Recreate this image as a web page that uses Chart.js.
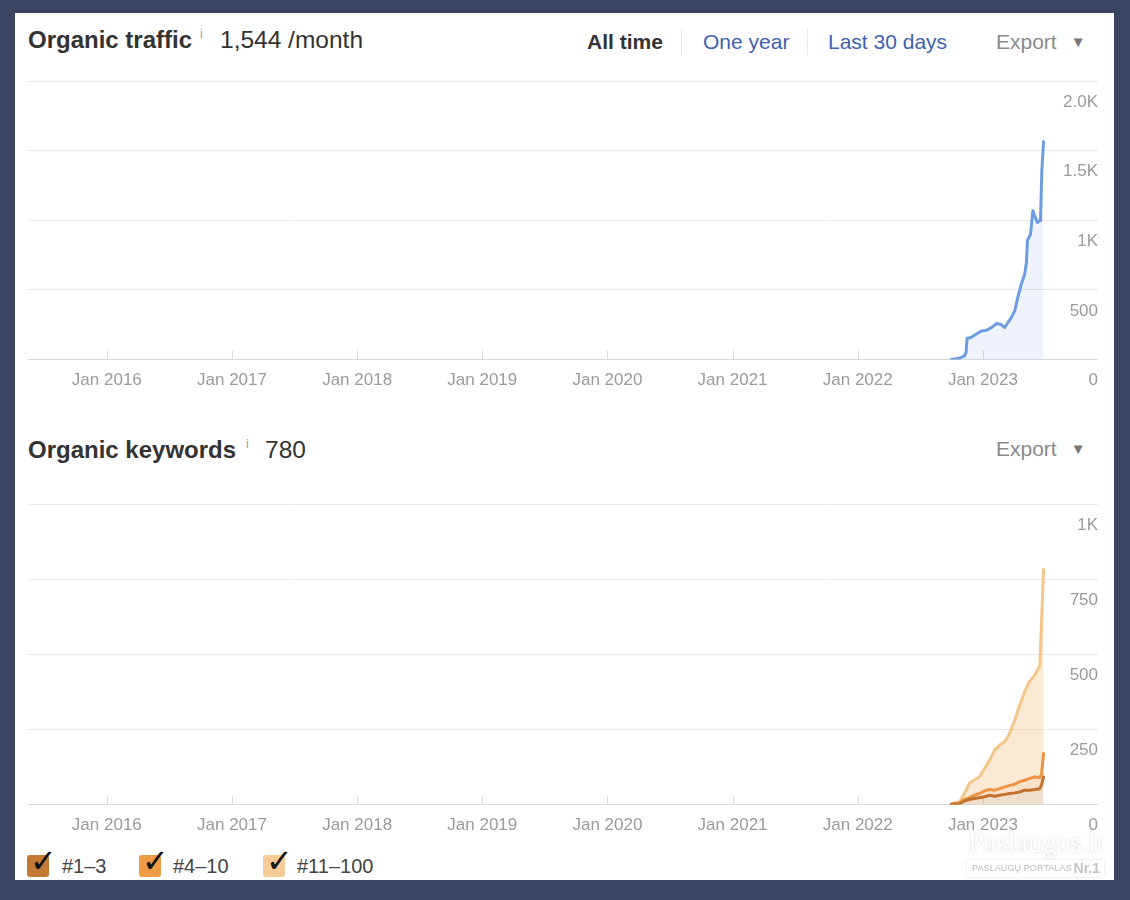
<!DOCTYPE html>
<html>
<head>
<meta charset="utf-8">
<title>Organic traffic / keywords</title>
<script src="https://cdn.jsdelivr.net/npm/chart.js@4.4.0/dist/chart.umd.min.js"></script>
<style>
  html, body { margin:0; padding:0; }
  body {
    width:1130px; height:900px; overflow:hidden; position:relative;
    background:#3a4661;
    font-family:"Liberation Sans", Arial, Helvetica, sans-serif;
    color:#333;
  }
  .panel { position:absolute; left:15px; top:13px; width:1099px; height:867px; background:#fff; }
  .abs { position:absolute; white-space:nowrap; }
  .title { font-size:24px; font-weight:bold; line-height:24px; color:#333; }
  .metric { font-size:24.5px; line-height:24px; color:#333; }
  .info { font-size:12px; line-height:12px; color:#999; }
  .nav { font-size:21px; line-height:21px; }
  .nav.on { font-weight:bold; color:#333; }
  .nav.link { color:#3d62b0; }
  .sep { width:1px; height:28px; background:#e8e8e8; }
  .export { font-size:21px; line-height:21px; color:#8a8a8a; }
  .export .caret { font-size:15px; color:#777; margin-left:14px; position:relative; top:-2px; }
  .box { position:absolute; width:22px; height:22px; border-radius:3px; }
  .chk { position:absolute; font-family:"DejaVu Sans", sans-serif; font-size:32px; line-height:32px; color:#111; }
  .lg { font-size:20px; line-height:20px; color:#444; }
  .wm1 { font-family:"Liberation Serif", serif; font-size:29px; line-height:29px; color:rgba(255,255,255,0.96);
         text-shadow:0 0 3px rgba(0,0,0,0.18); letter-spacing:-0.3px; }
  .wm2 { left:967px; top:860px; width:137px; height:17px; background:rgba(255,255,255,0.92);
         box-shadow:0 0 3px rgba(0,0,0,0.12); color:#bbb; }
  .wm2 .t { position:absolute; left:5px; top:0; font-size:9px; line-height:17px; letter-spacing:0.1px; }
  .wm2 b { position:absolute; right:4px; top:0; font-size:14px; line-height:17px; color:#c4c4c4; }
  .wrap { position:absolute; left:28px; width:1070px; }
</style>
</head>
<body>
<div class="panel"></div>

<!-- top header -->
<div class="abs title" style="left:28px;top:28px;">Organic traffic</div>
<div class="abs info" style="left:200px;top:28px;">i</div>
<div class="abs metric" style="left:220px;top:28px;">1,544 /month</div>
<div class="abs nav on" style="left:587px;top:31px;">All time</div>
<div class="abs sep" style="left:681px;top:28px;"></div>
<div class="abs nav link" style="left:703px;top:31px;">One year</div>
<div class="abs sep" style="left:807px;top:28px;"></div>
<div class="abs nav link" style="left:828px;top:31px;">Last 30 days</div>
<div class="abs export" style="left:996px;top:31px;">Export<span class="caret">▼</span></div>

<div class="wrap" style="top:71px;height:323px;"><canvas id="trafficChart"></canvas></div>

<!-- keywords header -->
<div class="abs title" style="left:28px;top:438px;">Organic keywords</div>
<div class="abs info" style="left:246px;top:438px;">i</div>
<div class="abs metric" style="left:265px;top:438px;">780</div>
<div class="abs export" style="left:996px;top:438px;">Export<span class="caret">▼</span></div>

<div class="wrap" style="top:494px;height:345px;"><canvas id="keywordsChart"></canvas></div>

<!-- legend -->
<div id="legend"></div>

<!-- watermark -->
<div class="abs wm1" style="left:968px;top:828px;">Paslaugos.lt</div>
<div class="abs wm2"><span class="t">PASLAUGŲ PORTALAS</span><b>Nr.1</b></div>

<script>
/* ---------- data ---------- */
const xTickYears = [2016, 2017, 2018, 2019, 2020, 2021, 2022, 2023];
const xRange = [2015.37, 2023.92];

const trafficTicks = ['0', '500', '1K', '1.5K', '2.0K'];
const trafficDates = [
  '2022-10-01','2022-10-25','2022-11-08','2022-11-13','2022-11-16','2022-11-27',
  '2022-12-12','2022-12-27','2023-01-11','2023-01-26','2023-02-10','2023-02-22',
  '2023-03-06','2023-03-15','2023-03-25','2023-04-04','2023-04-14','2023-04-23',
  '2023-05-03','2023-05-08','2023-05-11','2023-05-20','2023-05-27','2023-06-01',
  '2023-06-09','2023-06-18','2023-06-22','2023-06-27'
];
const trafficValues = [
  0, 10, 26, 50, 154, 158,
  182, 206, 211, 230, 259, 254,
  230, 266, 302, 350, 458, 542,
  614, 698, 854, 902, 1070, 1034,
  986, 998, 1358, 1567
];

const keywordTicks = ['0', '250', '500', '750', '1K'];
const keywordDates = [
  '2022-10-01','2022-10-25','2022-11-08','2022-11-23','2022-12-07','2022-12-22',
  '2023-01-06','2023-01-21','2023-02-05','2023-02-19','2023-03-06','2023-03-20',
  '2023-04-04','2023-04-18','2023-05-03','2023-05-17','2023-06-01','2023-06-16',
  '2023-06-21','2023-06-27'
];
// keywords ranking in positions 1-3, 1-10 and 1-100 (the visible stacked line tops)
const kwTop3   = [0, 3, 12, 17, 20, 23, 26, 31, 28, 31, 34, 37, 39, 42, 48, 48, 50, 53, 65, 92];
const kwTop10  = [1, 6, 17, 23, 31, 37, 46, 50, 48, 53, 59, 64, 68, 76, 81, 87, 92, 90, 100, 170];
const kwTop100 = [3, 9, 37, 72, 82, 92, 120, 148, 183, 198, 209, 237, 281, 330, 376, 410, 431, 462, 600, 783];

const legendLabels = ['#1–3', '#4–10', '#11–100'];
const legendColors = ['#c47a35', '#ef9a45', '#f5cc95'];

/* ---------- helpers ---------- */
function decYear(s){
  const d = new Date(s + 'T00:00:00Z');
  const start = Date.UTC(d.getUTCFullYear(), 0, 1);
  return d.getUTCFullYear() + (d - start) / (365 * 86400000);
}
function points(dates, values){
  return dates.map((s, i) => ({ x: decYear(s), y: values[i] }));
}

// short tick marks pointing up from the baseline, like the original
const tickMarks = {
  id: 'tickMarks',
  beforeDatasetsDraw(chart){
    const sx = chart.scales.x, bottom = chart.chartArea.bottom, c = chart.ctx;
    c.save();
    c.strokeStyle = '#dcdcdc';
    c.lineWidth = 1;
    sx.ticks.forEach(t => {
      const px = Math.round(sx.getPixelForValue(t.value)) + 0.5;
      c.beginPath(); c.moveTo(px, bottom); c.lineTo(px, bottom - 9); c.stroke();
    });
    c.restore();
  }
};

function baseOptions(yMax, step, labels){
  return {
    responsive: true,
    maintainAspectRatio: false,
    animation: false,
    layout: { padding: { top: 10, left: 0, right: 0, bottom: 0 } },
    plugins: { legend: { display: false }, tooltip: { enabled: false } },
    elements: { point: { radius: 0 }, line: { tension: 0, borderWidth: 3, borderJoinStyle: 'round', borderCapStyle: 'round' } },
    scales: {
      x: {
        type: 'linear',
        min: xRange[0], max: xRange[1],
        afterBuildTicks: (axis) => { axis.ticks = xTickYears.map(v => ({ value: v })); },
        grid: { display: false },
        border: { display: false },
        ticks: {
          color: '#9b9b9b', padding: 3, maxRotation: 0, autoSkip: false,
          font: { family: '"Liberation Sans", Arial, sans-serif', size: 17 },
          callback: (v) => 'Jan ' + v
        }
      },
      y: {
        position: 'right',
        min: 0, max: yMax,
        border: { display: false },
        grid: {
          drawTicks: false,
          color: (c) => c.tick && c.tick.value === 0 ? '#d9d9d9' : '#ebebeb',
          lineWidth: 1
        },
        ticks: {
          stepSize: step, mirror: true, padding: 0, labelOffset: 21,
          color: '#9b9b9b',
          font: { family: '"Liberation Sans", Arial, sans-serif', size: 17 },
          callback: (v) => labels[Math.round(v / step)]
        }
      }
    }
  };
}

/* ---------- traffic chart ---------- */
new Chart(document.getElementById('trafficChart'), {
  type: 'line',
  data: {
    datasets: [{
      label: 'Organic traffic',
      data: points(trafficDates, trafficValues),
      borderColor: '#6d9de0',
      backgroundColor: 'rgba(109,157,224,0.11)',
      fill: 'origin'
    }]
  },
  options: baseOptions(2000, 500, trafficTicks),
  plugins: [tickMarks]
});

/* ---------- keywords chart ---------- */
new Chart(document.getElementById('keywordsChart'), {
  type: 'line',
  data: {
    datasets: [
      { label: '#1–3', data: points(keywordDates, kwTop3),
        borderColor: '#c2712e', backgroundColor: 'rgba(196,122,53,0.25)', fill: 'origin' },
      { label: '#4–10', data: points(keywordDates, kwTop10),
        borderColor: '#ec9443', backgroundColor: 'rgba(239,154,69,0.3)', fill: '-1' },
      { label: '#11–100', data: points(keywordDates, kwTop100),
        borderColor: '#f4c68a', backgroundColor: 'rgba(245,200,140,0.38)', fill: '-1' }
    ]
  },
  options: baseOptions(1000, 250, keywordTicks),
  plugins: [tickMarks]
});

/* ---------- legend ---------- */
const legendX = [[27, 62], [139, 173], [263, 297]];
const legendEl = document.getElementById('legend');
legendLabels.forEach((lbl, i) => {
  const [bx, tx] = legendX[i];
  legendEl.insertAdjacentHTML('beforeend',
    `<div class="box" style="left:${bx}px;top:855px;background:${legendColors[i]};"></div>` +
    `<div class="chk" style="left:${bx + 3}px;top:845px;">✓</div>` +
    `<div class="abs lg" style="left:${tx}px;top:856px;">${lbl}</div>`);
});
</script>
</body>
</html>
